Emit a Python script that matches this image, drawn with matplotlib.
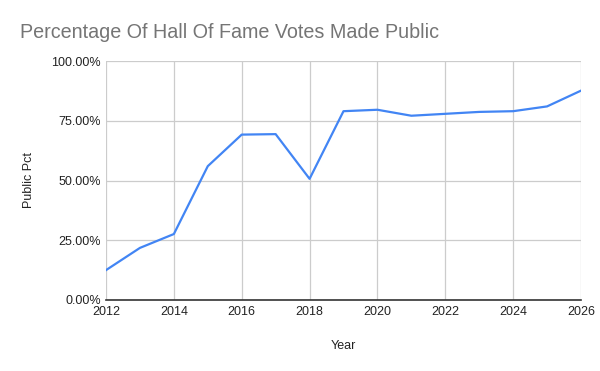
import matplotlib
matplotlib.use("Agg")
import matplotlib.pyplot as plt
from matplotlib.ticker import FuncFormatter, MultipleLocator

years = [2012, 2013, 2014, 2015, 2016, 2017, 2018, 2019, 2020, 2021, 2022, 2023, 2024, 2025, 2026]
public_pct = [12.5, 21.8, 27.6, 56.0, 69.2, 69.4, 50.7, 79.0, 79.6, 77.1, 77.9, 78.7, 79.0, 81.0, 87.6]
title = "Percentage Of Hall Of Fame Votes Made Public"
x_label = "Year"
y_label = "Public Pct"

plt.rcParams['font.family'] = ['Liberation Sans', 'DejaVu Sans']

fig = plt.figure(figsize=(6, 3.71), dpi=100)
ax = fig.add_axes([106/600, 1 - 300/371, (581 - 106)/600, (300 - 61)/371])

ax.plot(years, public_pct, color='#4285f4', linewidth=1.6, solid_joinstyle='round')

ax.set_xlim(2012, 2026)
ax.set_ylim(0, 100)
ax.xaxis.set_major_locator(MultipleLocator(2))
ax.yaxis.set_major_locator(MultipleLocator(25))
ax.yaxis.set_major_formatter(FuncFormatter(lambda v, p: f"{v:.2f}%"))

ax.grid(True, color='#cccccc', linewidth=0.9)
ax.set_axisbelow(True)
for s in ['top', 'right', 'left']:
    ax.spines[s].set_visible(False)
ax.spines['bottom'].set_color('#333333')
ax.spines['bottom'].set_linewidth(1.2)
ax.tick_params(axis='both', length=0, labelsize=9, colors='#222222', pad=4)
ax.tick_params(axis='y', pad=3.5)

ax.set_xlabel(x_label, fontsize=9, color='#222222', labelpad=16)
ax.set_ylabel(y_label, fontsize=9, color='#222222', labelpad=12)

fig.text(20/600, 1 - 32/371, title, fontsize=14.2, color='#757575', va='center', ha='left')

fig.savefig("out.png", dpi=100)
